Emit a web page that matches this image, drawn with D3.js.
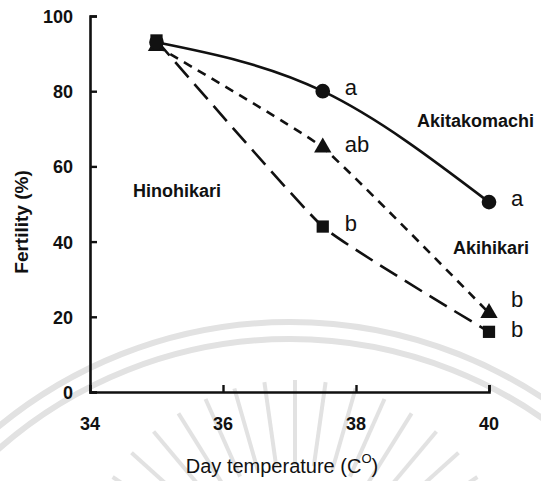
<!DOCTYPE html>
<html>
<head>
<meta charset="utf-8">
<script src="https://cdn.jsdelivr.net/npm/d3@7"></script>
<style>
  body { margin: 0; background: #fff; }
  text { font-family: "Liberation Sans", Arial, sans-serif; fill: #111; }
</style>
</head>
<body>
<div id="chart"></div>
<script>
// data
const temps = [35, 37.5, 40];
const akitakomachi = [93, 80, 50.5];
const akihikari = [92, 65, 21];
const hinohikari = [93.5, 44, 16];
const letters = {
    akitakomachi: ["", "a", "a"],
    akihikari: ["", "ab", "b"],
    hinohikari: ["", "b", "b"]
};
const xTicks = [34, 36, 38, 40];
const yTicks = [0, 20, 40, 60, 80, 100];

const width = 541, height = 481;

const svg = d3.select("#chart").append("svg")
    .attr("width", width)
    .attr("height", height);

// faint seal watermark behind the plot
const seal = svg.append("g").attr("fill", "none").attr("stroke", "#e2e2e2");
seal.selectAll("circle")
    .data([458, 441])
    .enter().append("circle")
    .attr("cx", 290).attr("cy", 780).attr("r", d => d)
    .attr("stroke-width", 6);
seal.selectAll("line")
    .data(d3.range(-80, 81, 8))
    .enter().append("line")
    .attr("x1", a => 295 + 135 * Math.sin(a * Math.PI / 180))
    .attr("y1", a => 600 - 135 * Math.cos(a * Math.PI / 180))
    .attr("x2", a => 295 + 220 * Math.sin(a * Math.PI / 180))
    .attr("y2", a => 600 - 220 * Math.cos(a * Math.PI / 180))
    .attr("stroke-width", 4);

const x = d3.scaleLinear().domain([34, 40]).range([90, 489]);
const y = d3.scaleLinear().domain([0, 100]).range([392, 16]);

// axes, ticks pointing inward
const xAxis = svg.append("g")
    .attr("transform", "translate(0," + y(0) + ")")
    .call(d3.axisTop(x).tickValues(xTicks).tickSize(7).tickFormat(""));
const yAxis = svg.append("g")
    .attr("transform", "translate(" + x(34) + ",0)")
    .call(d3.axisRight(y).tickValues(yTicks).tickSize(7).tickFormat(""));
[xAxis, yAxis].forEach(g => {
    g.select(".domain").attr("stroke", "#111").attr("stroke-width", 2.6);
    g.selectAll(".tick line").attr("stroke", "#111").attr("stroke-width", 2.4);
});
xAxis.select(".tick line").remove();

// tick labels
svg.append("g").selectAll("text")
    .data(xTicks)
    .enter().append("text")
    .attr("x", d => x(d))
    .attr("y", 430)
    .attr("text-anchor", "middle")
    .attr("font-size", "18px")
    .attr("font-weight", "bold")
    .text(d => d);

svg.append("g").selectAll("text")
    .data(yTicks)
    .enter().append("text")
    .attr("x", 73)
    .attr("y", d => y(d) + 7)
    .attr("text-anchor", "end")
    .attr("font-size", "18px")
    .attr("font-weight", "bold")
    .text(d => d);

// axis titles
const xt = svg.append("text")
    .attr("x", 282)
    .attr("y", 473)
    .attr("text-anchor", "middle")
    .attr("font-size", "20px");
xt.append("tspan").text("Day temperature (C");
xt.append("tspan").attr("dy", -10).attr("font-size", "13px").text("O");
xt.append("tspan").attr("dy", 10).text(")");

svg.append("text")
    .attr("transform", "translate(28,222)rotate(-90)")
    .attr("text-anchor", "middle")
    .attr("font-size", "19px")
    .attr("font-weight", "bold")
    .text("Fertility (%)");

// lines
const smooth = d3.line()
    .x(d => x(d[0]))
    .y(d => y(d[1]))
    .curve(d3.curveMonotoneX);
const stiff = d3.line()
    .x(d => x(d[0]))
    .y(d => y(d[1]))
    .curve(d3.curveCardinal.tension(0.6));

const series = [
    { name: "hinohikari", values: hinohikari, dash: "20,9", line: stiff, marker: d3.symbolSquare, size: 150 },
    { name: "akihikari", values: akihikari, dash: "9,7", line: stiff, marker: d3.symbolTriangle, size: 130 },
    { name: "akitakomachi", values: akitakomachi, dash: null, line: smooth, marker: d3.symbolCircle, size: 170 }
];

series.forEach(s => {
    const pts = temps.map((t, i) => [t, s.values[i]]);
    svg.append("path")
        .datum(pts)
        .attr("fill", "none")
        .attr("stroke", "#111")
        .attr("stroke-width", 2.6)
        .attr("stroke-dasharray", s.dash)
        .attr("d", s.line);
    svg.append("g").selectAll("path")
        .data(pts)
        .enter().append("path")
        .attr("transform", d => "translate(" + x(d[0]) + "," + y(d[1]) + ")")
        .attr("d", d3.symbol().type(s.marker).size(s.size))
        .attr("fill", "#111");
    // significance letters (the two "b"s at 40 are pushed apart a little)
    svg.append("g").selectAll("text")
        .data(pts.map((p, i) => [p, letters[s.name][i], i]).filter(d => d[1]))
        .enter().append("text")
        .attr("x", d => x(d[0][0]) + 22)
        .attr("y", d => {
            let dy = 4;
            if (d[2] === 2 && s.name === "akihikari") dy = -6;
            if (d[2] === 2 && s.name === "hinohikari") dy = 5;
            return y(d[0][1]) + dy;
        })
        .attr("font-size", "22px")
        .text(d => d[1]);
});

// cultivar names
const names = [
    { label: "Akitakomachi", x: 417, y: 127 },
    { label: "Hinohikari", x: 133, y: 197 },
    { label: "Akihikari", x: 453, y: 254 }
];
svg.append("g").selectAll("text")
    .data(names)
    .enter().append("text")
    .attr("x", d => d.x)
    .attr("y", d => d.y)
    .attr("font-size", "18px")
    .attr("font-weight", "bold")
    .text(d => d.label);
</script>
</body>
</html>
